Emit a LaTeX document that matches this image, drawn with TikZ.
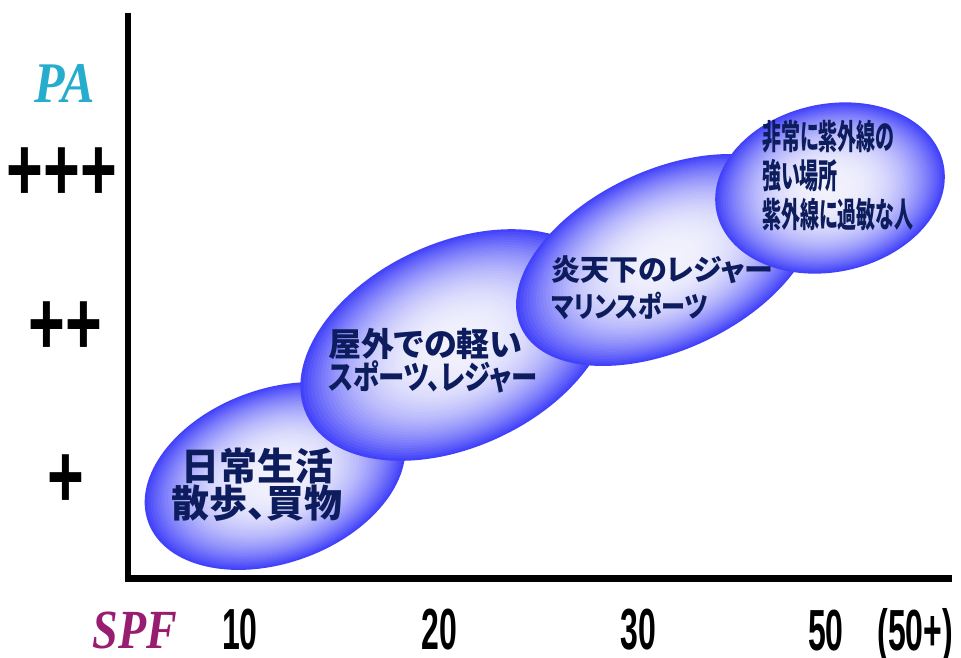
\documentclass[tikz,border=0pt]{standalone}
\usepackage{fontspec}
\usepackage{graphicx}
\newfontfamily\jp{Noto Sans CJK JP}[RawFeature=+palt]
\newfontfamily\lsans{Liberation Sans}
\newfontfamily\lserif{Liberation Serif}
\definecolor{edgeblue}{RGB}{66,66,250}
\definecolor{lightblue}{RGB}{242,242,253}
\definecolor{navy}{RGB}{12,28,92}
\definecolor{pacyan}{RGB}{38,172,204}
\definecolor{spfmag}{RGB}{152,28,112}
% #1,#2 centre, #3,#4 semi-axes (pt), #5 tilt
\newcommand\blobshape[5]{%
  \begin{scope}[shift={(#1,#2)},rotate=#5]
    \foreach \k in {0,...,44}{%
      \pgfmathsetmacro\s{1-\k/45}%
      \pgfmathsetmacro\p{100*(1-\s^2.6)}%
      \fill[lightblue!\p!edgeblue] (0,0) ellipse ({\s*#3 pt} and {\s*#4 pt});
    }
  \end{scope}}
\newcommand\narrow[2]{\scalebox{#1}[1]{#2}}
\tikzset{
  jtext/.style={text=navy, align=left, inner sep=0pt},
  plusmark/.style={font=\lsans\bfseries\fontsize{90}{90}\selectfont, xscale=0.7, inner sep=0pt, anchor=base},
  numlabel/.style={font=\lsans\bfseries\fontsize{40}{40}\selectfont, xscale=0.8, yscale=1.45, inner sep=0pt, anchor=center},
  axislabel/.style={font=\lserif\bfseries\itshape, inner sep=0pt, anchor=center},
}
\begin{document}
\begin{tikzpicture}[x=1pt,y=-1pt]
\useasboundingbox (0,0) rectangle (961,657);
\fill[white] (0,0) rectangle (961,657);

% bubbles
\blobshape{275}{476}{135}{87}{20}
\blobshape{456}{345}{165}{102}{25}
\blobshape{666}{260}{160}{90}{25}
\blobshape{830}{188}{116}{84}{12}

% axes
\coordinate (ytop) at (128,13);
\coordinate (origin) at (128,578.5);
\coordinate (xend) at (952,578.5);
\draw[line width=6.5pt, line join=miter] (ytop) -- (origin) -- (xend);

% bubble texts
\node[jtext, align=center, font=\jp\bfseries\fontsize{38}{36}\selectfont] (t1) at (257,485) {日常生活\\散歩、買物};
\node[jtext, anchor=west, font=\jp\bfseries\fontsize{33}{32}\selectfont] (t2) at (328,361) {屋外での軽い\\\narrow{0.8}{スポーツ、レジャー}};
\node[jtext, anchor=west, font=\jp\bfseries\fontsize{29}{37}\selectfont] (t3) at (551,287.5) {炎天下のレジャー\\\narrow{0.83}{マリンスポーツ}};
\node[jtext, anchor=west, yscale=1.8, font=\jp\bfseries\fontsize{19}{21.5}\selectfont] (t4) at (762,175.5) {非常に紫外線の\\強い場所\\紫外線に過敏な人};

% y axis labels
\node[axislabel, text=pacyan, font=\lserif\bfseries\itshape\fontsize{50}{50}\selectfont, yscale=1.15] (pa) at (65,84) {PA};
\node[plusmark] (p3) at (62,200) {+++};
\node[plusmark] (p2) at (65,354) {++};
\node[plusmark] (p1) at (65.5,507) {+};

% x axis labels
\node[axislabel, text=spfmag, font=\lserif\bfseries\itshape\fontsize{46}{46}\selectfont, yscale=1.2] (spf) at (135,630) {SPF};
\node[numlabel] (n10) at (240,630) {10};
\node[numlabel] (n20) at (439,630) {20};
\node[numlabel] (n30) at (638,630) {30};
\node[numlabel, anchor=west] (n50) at (808,635.5) {50\hspace{42pt}(50+)};
\end{tikzpicture}
\end{document}
